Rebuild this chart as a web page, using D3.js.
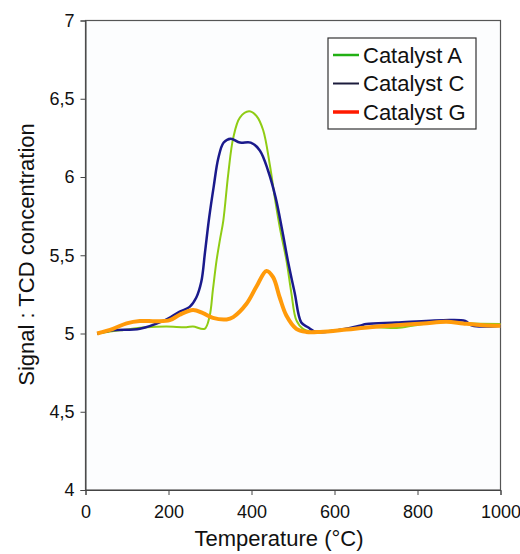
<!DOCTYPE html>
<html lang="en">
<head>
    <meta charset="UTF-8">
    <title>TCD signal vs temperature</title>
    <style>
        body { margin: 0; background: #fff; }
        svg text { font-family: "Liberation Sans", Arial, sans-serif; fill: #111; }
        .axis path, .axis line { stroke: #444; }
    </style>
</head>
<body>
<svg id="chart" width="520" height="554"></svg>
<script src="https://d3js.org/d3.v7.min.js"></script>
<script>
    // x ticks and y ticks
    const xTicks = [0, 200, 400, 600, 800, 1000];
    const yTicks = [4, 4.5, 5, 5.5, 6, 6.5, 7];

    // series names (legend order)
    const seriesNames = ["Catalyst A", "Catalyst C", "Catalyst G"];

    // Catalyst A: [temperature, signal]
    const catalystA = [
        [28, 5.00], [83, 5.02], [147, 5.04], [195, 5.045], [243, 5.04], [259, 5.045],
        [287, 5.03], [299, 5.11], [307, 5.28], [316, 5.47], [324, 5.60], [332, 5.72],
        [344, 6.02], [356, 6.25], [372, 6.38], [394, 6.42], [412, 6.39], [428, 6.30],
        [444, 6.08], [456, 5.87], [468, 5.68], [484, 5.47], [496, 5.26], [508, 5.085],
        [524, 5.03], [548, 5.01], [600, 5.02], [650, 5.03], [700, 5.04], [750, 5.035],
        [800, 5.055], [870, 5.075], [920, 5.065], [1000, 5.06]
    ];

    // Catalyst C
    const catalystC = [
        [28, 5.00], [66, 5.02], [131, 5.03], [187, 5.08], [227, 5.14], [251, 5.17],
        [267, 5.23], [279, 5.33], [288, 5.52], [298, 5.74], [309, 5.94], [320, 6.12],
        [333, 6.22], [350, 6.245], [372, 6.22], [398, 6.22], [420, 6.17], [440, 6.04],
        [458, 5.87], [474, 5.66], [488, 5.46], [504, 5.26], [520, 5.07], [536, 5.04],
        [556, 5.01], [605, 5.02], [661, 5.05], [677, 5.06], [749, 5.07], [862, 5.085],
        [915, 5.08], [932, 5.05], [1000, 5.05]
    ];

    // Catalyst G
    const catalystG = [
        [28, 5.00], [66, 5.03], [99, 5.065], [131, 5.08], [171, 5.078], [203, 5.085],
        [227, 5.12], [259, 5.15], [283, 5.13], [307, 5.10], [340, 5.09], [356, 5.105],
        [388, 5.19], [412, 5.30], [436, 5.40], [452, 5.36], [468, 5.23], [484, 5.115],
        [508, 5.03], [532, 5.01], [565, 5.01], [629, 5.025], [685, 5.04], [749, 5.053],
        [814, 5.064], [870, 5.075], [910, 5.064], [958, 5.053], [1000, 5.05]
    ];

    const svg = d3.select("#chart");
    const margin = { top: 20.5, right: 19.5, bottom: 64, left: 85.5 };
    const width = 520 - margin.left - margin.right;
    const height = 554 - margin.top - margin.bottom;

    const x = d3.scaleLinear().domain([0, 1000]).range([0, width]);
    const y = d3.scaleLinear().domain([4, 7]).range([height, 0]);

    const g = svg.append("g")
        .attr("transform", `translate(${margin.left},${margin.top})`);

    // frame
    g.append("rect")
        .attr("width", width).attr("height", height)
        .attr("fill", "#fcfdfe").attr("stroke", "#555").attr("stroke-width", 1.2);

    // axes
    const comma = d => String(d).replace(".", ",");
    g.append("g").attr("class", "axis")
        .call(d3.axisLeft(y).tickValues(yTicks).tickSize(5).tickPadding(6).tickFormat(comma))
        .call(a => a.selectAll("text").style("font-size", "18px"));

    g.append("g").attr("class", "axis")
        .attr("transform", `translate(0,${height})`)
        .call(d3.axisBottom(x).tickValues(xTicks).tickSize(5).tickPadding(10).tickFormat(d => String(d)))
        .call(a => a.selectAll("text").style("font-size", "18px"));

    // lines
    const line = d3.line()
        .x(d => x(d[0]))
        .y(d => y(d[1]))
        .curve(d3.curveCatmullRom.alpha(0.5));

    const series = [
        { data: catalystA, color: "#8fcc14", w: 2 },
        { data: catalystC, color: "#1a1a8c", w: 2.5 },
        { data: catalystG, color: "#ff9a0a", w: 4 }
    ];

    series.forEach(s => {
        g.append("path")
            .datum(s.data)
            .attr("fill", "none")
            .attr("stroke", s.color)
            .attr("stroke-width", s.w)
            .attr("stroke-linejoin", "round")
            .attr("d", line);
    });

    // legend
    const legendColors = ["#22b014", "#1c1c3c", "#ff1a00"];
    const legendWidths = [2.5, 2, 3.5];
    const legend = svg.append("g").attr("transform", "translate(328,38)");
    legend.append("rect")
        .attr("width", 148).attr("height", 91)
        .attr("fill", "#fff").attr("stroke", "#333").attr("stroke-width", 1.2);
    seriesNames.forEach((name, i) => {
        const yy = 17 + i * 28.5;
        legend.append("line")
            .attr("x1", 5).attr("x2", 31).attr("y1", yy).attr("y2", yy)
            .attr("stroke", legendColors[i]).attr("stroke-width", legendWidths[i]);
        legend.append("text")
            .attr("x", 35).attr("y", yy).attr("dy", "0.36em")
            .style("font-size", "22px")
            .text(name);
    });

    // axis titles
    svg.append("text")
        .attr("x", margin.left + width / 2 - 14).attr("y", 546)
        .attr("text-anchor", "middle")
        .style("font-size", "22px")
        .text("Temperature (°C)");

    svg.append("text")
        .attr("transform", `translate(34,${margin.top + 234}) rotate(-90)`)
        .attr("text-anchor", "middle")
        .style("font-size", "22px")
        .text("Signal : TCD concentration");
</script>
</body>
</html>
